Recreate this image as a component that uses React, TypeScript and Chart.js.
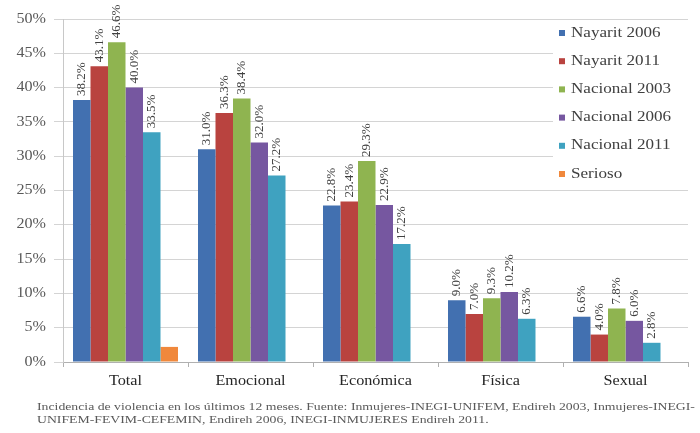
import { useEffect, useRef } from "react";
import { Chart, registerables } from "chart.js";

Chart.register(...registerables);

// Categories and series (percent of women reporting violence in the last 12 months)
const categories = ["Total", "Emocional", "Económica", "Física", "Sexual"];
const seriesNames = ["Nayarit 2006", "Nayarit 2011", "Nacional 2003", "Nacional 2006", "Nacional 2011", "Serioso"];
const nayarit2006 = [38.2, 31.0, 22.8, 9.0, 6.6];
const nayarit2011 = [43.1, 36.3, 23.4, 7.0, 4.0];
const nacional2003 = [46.6, 38.4, 29.3, 9.3, 7.8];
const nacional2006 = [40.0, 32.0, 22.9, 10.2, 6.0];
const nacional2011 = [33.5, 27.2, 17.2, 6.3, 2.8];
const serioso = [2.2, null, null, null, null];
const seriesColors = ["#4270B0", "#B9433F", "#8FB450", "#7657A0", "#3FA2C0", "#F0883C"];
const showValues = [true, true, true, true, true, false];
const yTicks = [0, 5, 10, 15, 20, 25, 30, 35, 40, 45, 50];
const footnoteLines = [
  "Incidencia de violencia en los últimos 12 meses. Fuente: Inmujeres-INEGI-UNIFEM, Endireh 2003, Inmujeres-INEGI-",
  "UNIFEM-FEVIM-CEFEMIN, Endireh 2006, INEGI-INMUJERES Endireh 2011.",
];

const SERIF = "'Liberation Serif', 'DejaVu Serif', serif";

function drawText(
  ctx: CanvasRenderingContext2D,
  text: string,
  x: number,
  y: number,
  size: number,
  sx: number,
  align: CanvasTextAlign,
  color: string,
  maxWidth?: number
) {
  ctx.save();
  ctx.translate(x, y);
  ctx.scale(sx, 1);
  ctx.font = `${size}px ${SERIF}`;
  ctx.fillStyle = color;
  ctx.textAlign = align;
  ctx.textBaseline = "middle";
  if (maxWidth) ctx.fillText(text, 0, 0, maxWidth / sx);
  else ctx.fillText(text, 0, 0);
  ctx.restore();
}

const textPlugin = {
  id: "textLayer",
  afterDatasetsDraw(chart: any) {
    const ctx: CanvasRenderingContext2D = chart.ctx;
    // value labels, rotated, above each bar
    chart.data.datasets.forEach((ds: any, i: number) => {
      if (!showValues[i]) return;
      const meta = chart.getDatasetMeta(i);
      meta.data.forEach((bar: any, j: number) => {
        const v = ds.data[j];
        if (v == null) return;
        ctx.save();
        ctx.translate(bar.x, bar.y - 4);
        ctx.rotate(-Math.PI / 2);
        ctx.font = `13px ${SERIF}`;
        ctx.fillStyle = "#404040";
        ctx.textAlign = "left";
        ctx.textBaseline = "middle";
        ctx.fillText(`${v.toFixed(1)}%`, 0, 0);
        ctx.restore();
      });
    });
  },
  afterDraw(chart: any) {
    const ctx: CanvasRenderingContext2D = chart.ctx;
    const xs = chart.scales.x;
    const ys = chart.scales.y;
    // y tick labels
    yTicks.forEach((v) => {
      drawText(ctx, `${v}%`, 46, ys.getPixelForValue(v), 14, 1.15, "right", "#595959");
    });
    // category labels
    categories.forEach((c, j) => {
      drawText(ctx, c, xs.getPixelForValue(j), 381, 15, 1.08, "center", "#262626");
    });
    // legend box over the plot area
    const lx = 553;
    const ly = 22;
    ctx.save();
    ctx.fillStyle = "#ffffff";
    ctx.fillRect(lx, ly, 135, 164);
    ctx.restore();
    seriesNames.forEach((name, i) => {
      const cy = 33 + i * 28.2;
      ctx.fillStyle = seriesColors[i];
      ctx.fillRect(lx + 6, cy - 3, 6, 6);
      drawText(ctx, name, lx + 18, cy, 14, 1.22, "left", "#404040");
    });
    // source note
    footnoteLines.forEach((line, k) => {
      drawText(ctx, line, 37, 407 + k * 13.5, 11, 1.25, "left", "#595959", k === 0 ? 660 : undefined);
    });
  },
};

export default function App() {
  const ref = useRef<HTMLCanvasElement | null>(null);

  useEffect(() => {
    document.body.style.margin = "0";
    const canvas = ref.current;
    if (!canvas) return;
    const seriesData = [nayarit2006, nayarit2011, nacional2003, nacional2006, nacional2011, serioso];
    const chart = new Chart(canvas, {
      type: "bar",
      data: {
        labels: categories,
        datasets: seriesNames.map((name, i) => ({
          label: name,
          data: seriesData[i] as any,
          backgroundColor: seriesColors[i],
          borderWidth: 0,
          categoryPercentage: 0.84,
          barPercentage: 1.0,
        })),
      },
      options: {
        animation: false,
        responsive: false,
        devicePixelRatio: 1,
        layout: { padding: { left: 54, right: 12, top: 19, bottom: 66 } },
        plugins: { legend: { display: false }, tooltip: { enabled: false } },
        scales: {
          x: {
            ticks: { display: false },
            grid: {
              display: true,
              drawOnChartArea: false,
              drawTicks: true,
              tickLength: 5,
              offset: true,
              color: "#b0b0b0",
            },
            border: { color: "#b0b0b0" },
          },
          y: {
            min: 0,
            max: 50,
            ticks: { display: false, stepSize: 5 },
            grid: { color: "#d4d4d4", drawTicks: true, tickLength: 9 },
            border: { color: "#c8c8c8" },
          },
        },
      },
      plugins: [textPlugin],
    });
    return () => chart.destroy();
  }, []);

  return <canvas ref={ref} width={700} height={433} style={{ display: "block" }} />;
}
